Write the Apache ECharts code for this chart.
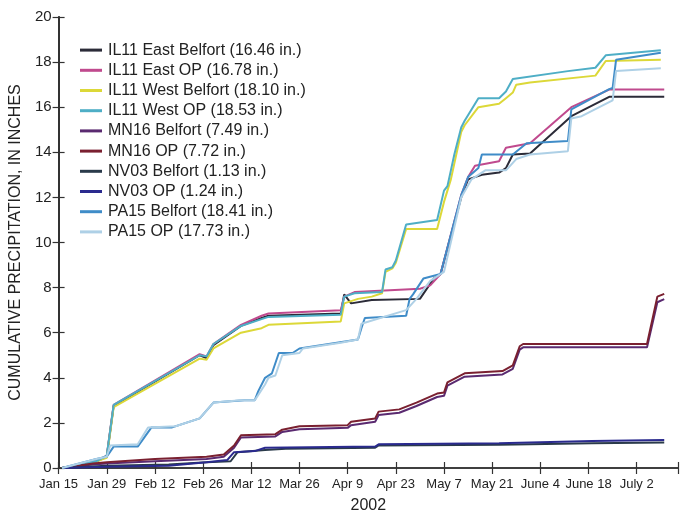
<!DOCTYPE html>
<html>
<head>
<meta charset="utf-8">
<script src="https://cdn.jsdelivr.net/npm/echarts@6/dist/echarts.min.js"></script>
<style>html,body{margin:0;padding:0;background:#fff}#c{width:681px;height:519px}</style>
</head>
<body>
<div id="c"></div>
<script>
// x values are days after Jan 15, 2002
var tickLabels = ['Jan 15','Jan 29','Feb 12','Feb 26','Mar 12','Mar 26','Apr 9','Apr 23','May 7','May 21','June 4','June 18','July 2'];
var seriesNames = ['IL11 East Belfort (16.46 in.)','IL11 East OP (16.78 in.)','IL11 West Belfort (18.10 in.)','IL11 West OP (18.53 in.)','MN16 Belfort (7.49 in.)','MN16 OP (7.72 in.)','NV03 Belfort (1.13 in.)','NV03 OP (1.24 in.)','PA15 Belfort (18.41 in.)','PA15 OP (17.73 in.)'];
var seriesColors = ['#2b2b38','#c04a8e','#dcd838','#4eaec6','#5a2a70','#7a2030','#2a3a4a','#2a2a8e','#3f8cc8','#aed0e6'];

var il11EastBelfort = [[1,0],[11,0.3],[14,0.5],[16,2.75],[41,5.0],[43,4.88],[45,5.45],[53,6.3],[59,6.65],[61,6.75],[82,6.85],[83,7.7],[85,7.3],[91,7.45],[105,7.5],[109,8.4],[111,8.6],[117,12.0],[119,12.8],[123,13.0],[128,13.1],[130,13.3],[132,13.9],[137,13.95],[149,15.6],[160,16.46],[176,16.46]];
var il11EastOP = [[1,0],[11,0.3],[14,0.55],[16,2.8],[41,5.05],[43,4.95],[45,5.5],[53,6.35],[59,6.75],[61,6.85],[82,7.0],[83,7.6],[86,7.8],[105,7.95],[108,8.1],[111,8.6],[117,12.1],[119,12.9],[121,13.4],[128,13.6],[130,14.2],[137,14.4],[149,16.0],[160,16.78],[176,16.78]];
var il11WestBelfort = [[1,0],[11,0.3],[14,0.45],[16,2.7],[41,4.85],[43,4.8],[45,5.3],[53,6.0],[59,6.2],[61,6.35],[82,6.5],[83,7.3],[87,7.5],[91,7.6],[94,7.75],[95,8.7],[97,8.85],[98,9.1],[101,10.6],[110,10.6],[112,11.8],[114,12.8],[115,13.5],[117,14.9],[118,15.2],[122,16.0],[128,16.15],[130,16.4],[132,16.65],[133,17.0],[137,17.1],[156,17.4],[159,18.05],[175,18.1]];
var il11WestOP = [[1,0],[11,0.3],[14,0.55],[16,2.8],[41,5.0],[43,4.95],[45,5.5],[53,6.3],[59,6.6],[61,6.7],[82,6.8],[83,7.6],[86,7.75],[94,7.8],[95,8.8],[97,8.9],[98,9.2],[101,10.8],[110,11.0],[112,12.3],[113,12.5],[114,13.2],[115,13.9],[117,15.1],[118,15.4],[122,16.4],[128,16.4],[130,16.7],[132,17.25],[148,17.6],[156,17.75],[159,18.3],[175,18.53]];
var mn16Belfort = [[1,0],[10,0.15],[14,0.2],[28,0.3],[43,0.4],[48,0.5],[51,0.9],[53,1.35],[63,1.4],[65,1.6],[70,1.72],[84,1.78],[85,1.9],[92,2.05],[93,2.35],[99,2.45],[104,2.75],[110,3.15],[112,3.2],[113,3.65],[118,4.05],[129,4.15],[132,4.4],[134,5.25],[135,5.35],[171,5.35],[174,7.35],[176,7.49]];
var mn16OP = [[1,0],[10,0.2],[14,0.25],[28,0.4],[43,0.5],[48,0.6],[51,1.0],[53,1.45],[63,1.5],[65,1.7],[70,1.85],[84,1.9],[85,2.05],[92,2.2],[93,2.5],[99,2.6],[104,2.9],[110,3.3],[112,3.35],[113,3.8],[118,4.2],[129,4.3],[132,4.55],[134,5.4],[135,5.5],[171,5.5],[174,7.6],[176,7.72]];
var nv03Belfort = [[1,0],[14,0.1],[32,0.15],[43,0.25],[50,0.3],[52,0.7],[60,0.8],[66,0.85],[92,0.9],[93,1.0],[128,1.03],[155,1.1],[176,1.13]];
var nv03OP = [[1,0],[14,0.05],[32,0.1],[43,0.25],[49,0.35],[51,0.7],[57,0.75],[60,0.9],[92,0.95],[93,1.05],[128,1.1],[155,1.2],[176,1.24]];
var pa15Belfort = [[1,0],[11,0.4],[14,0.5],[16,0.95],[23,0.95],[27,1.8],[33,1.8],[41,2.2],[45,2.9],[54,3.0],[57,3.0],[58,3.4],[60,4.0],[62,4.2],[64,5.1],[68,5.1],[70,5.3],[87,5.7],[88,6.2],[89,6.65],[101,6.75],[102,7.5],[103,7.7],[106,8.4],[111,8.6],[117,12.1],[119,12.9],[122,13.3],[123,13.9],[132,13.9],[136,14.4],[148,14.5],[149,15.9],[160,16.8],[161,16.85],[162,18.1],[175,18.41]];
var pa15OP = [[1,0],[11,0.4],[14,0.5],[15,1.0],[23,1.05],[26,1.8],[34,1.85],[41,2.2],[45,2.9],[53,3.0],[57,3.0],[60,3.7],[61,4.0],[63,4.1],[65,5.0],[70,5.1],[71,5.3],[82,5.55],[87,5.7],[88,6.4],[101,7.0],[104,7.5],[108,8.3],[112,8.7],[117,12.0],[120,12.8],[124,13.2],[130,13.2],[133,13.7],[137,13.9],[148,14.05],[149,15.5],[152,15.6],[161,16.3],[162,17.6],[175,17.73]];

var seriesData = [il11EastBelfort, il11EastOP, il11WestBelfort, il11WestOP, mn16Belfort, mn16OP, nv03Belfort, nv03OP, pa15Belfort, pa15OP];

var font = "'Liberation Sans', Arial, Helvetica, sans-serif";
var axisColor = '#333';

var chart = echarts.init(document.getElementById('c'), null, {renderer: 'canvas'});
var series = seriesNames.map(function (n, i) {
  return {
    name: n, type: 'line', data: seriesData[i], showSymbol: false, symbol: 'none',
    lineStyle: {width: 2, color: seriesColors[i]}, itemStyle: {color: seriesColors[i]},
    animation: false, z: 2
  };
});

chart.setOption({
  backgroundColor: '#fff',
  animation: false,
  grid: {left: 57, right: 3, top: 17, bottom: 45, containLabel: false},
  legend: {
    orient: 'vertical', left: 80, top: 40, padding: 0,
    itemWidth: 22, itemHeight: 3, itemGap: 0, icon: 'rect',
    textStyle: {fontFamily: font, fontSize: 16, color: '#222', lineHeight: 20.2, padding: [0, 0, 0, 1]},
    data: seriesNames
  },
  xAxis: [{
    type: 'value', min: 0, max: 180, interval: 14, position: 'bottom',
    name: '2002', nameLocation: 'middle', nameGap: 30,
    nameTextStyle: {fontFamily: font, fontSize: 16, color: '#222'},
    axisLine: {show: true, lineStyle: {color: axisColor, width: 1.5}},
    axisTick: {show: true, inside: true, length: 6, lineStyle: {color: axisColor, width: 1.2}},
    axisLabel: {fontFamily: font, fontSize: 13, color: '#222', margin: 10,
      formatter: function (v) { return (v % 14 === 0 && v / 14 < tickLabels.length) ? tickLabels[v / 14] : ''; }},
    splitLine: {show: false}
  }, {
    type: 'value', min: 0, max: 180, interval: 14, position: 'top',
    axisLine: {show: true, lineStyle: {color: axisColor, width: 1.5}},
    axisTick: {show: true, inside: true, length: 6, lineStyle: {color: axisColor, width: 1.2}},
    axisLabel: {show: false}, splitLine: {show: false}
  }],
  yAxis: [{
    type: 'value', min: 0, max: 20, interval: 2, position: 'left',
    name: 'CUMULATIVE PRECIPITATION, IN INCHES', nameLocation: 'middle', nameGap: 30,
    nameTextStyle: {fontFamily: font, fontSize: 16, color: '#222'},
    axisLine: {show: true, lineStyle: {color: axisColor, width: 2}},
    axisTick: {show: true, inside: true, length: 6, lineStyle: {color: axisColor, width: 1.2}},
    axisLabel: {fontFamily: font, fontSize: 15, color: '#222', margin: 7},
    splitLine: {show: false}
  }, {
    type: 'value', min: 0, max: 20, interval: 2, position: 'right',
    axisLine: {show: true, lineStyle: {color: axisColor, width: 1.5}},
    axisTick: {show: true, inside: true, length: 6, lineStyle: {color: axisColor, width: 1.2}},
    axisLabel: {show: false}, splitLine: {show: false}
  }],
  series: series
});
</script>
</body>
</html>
